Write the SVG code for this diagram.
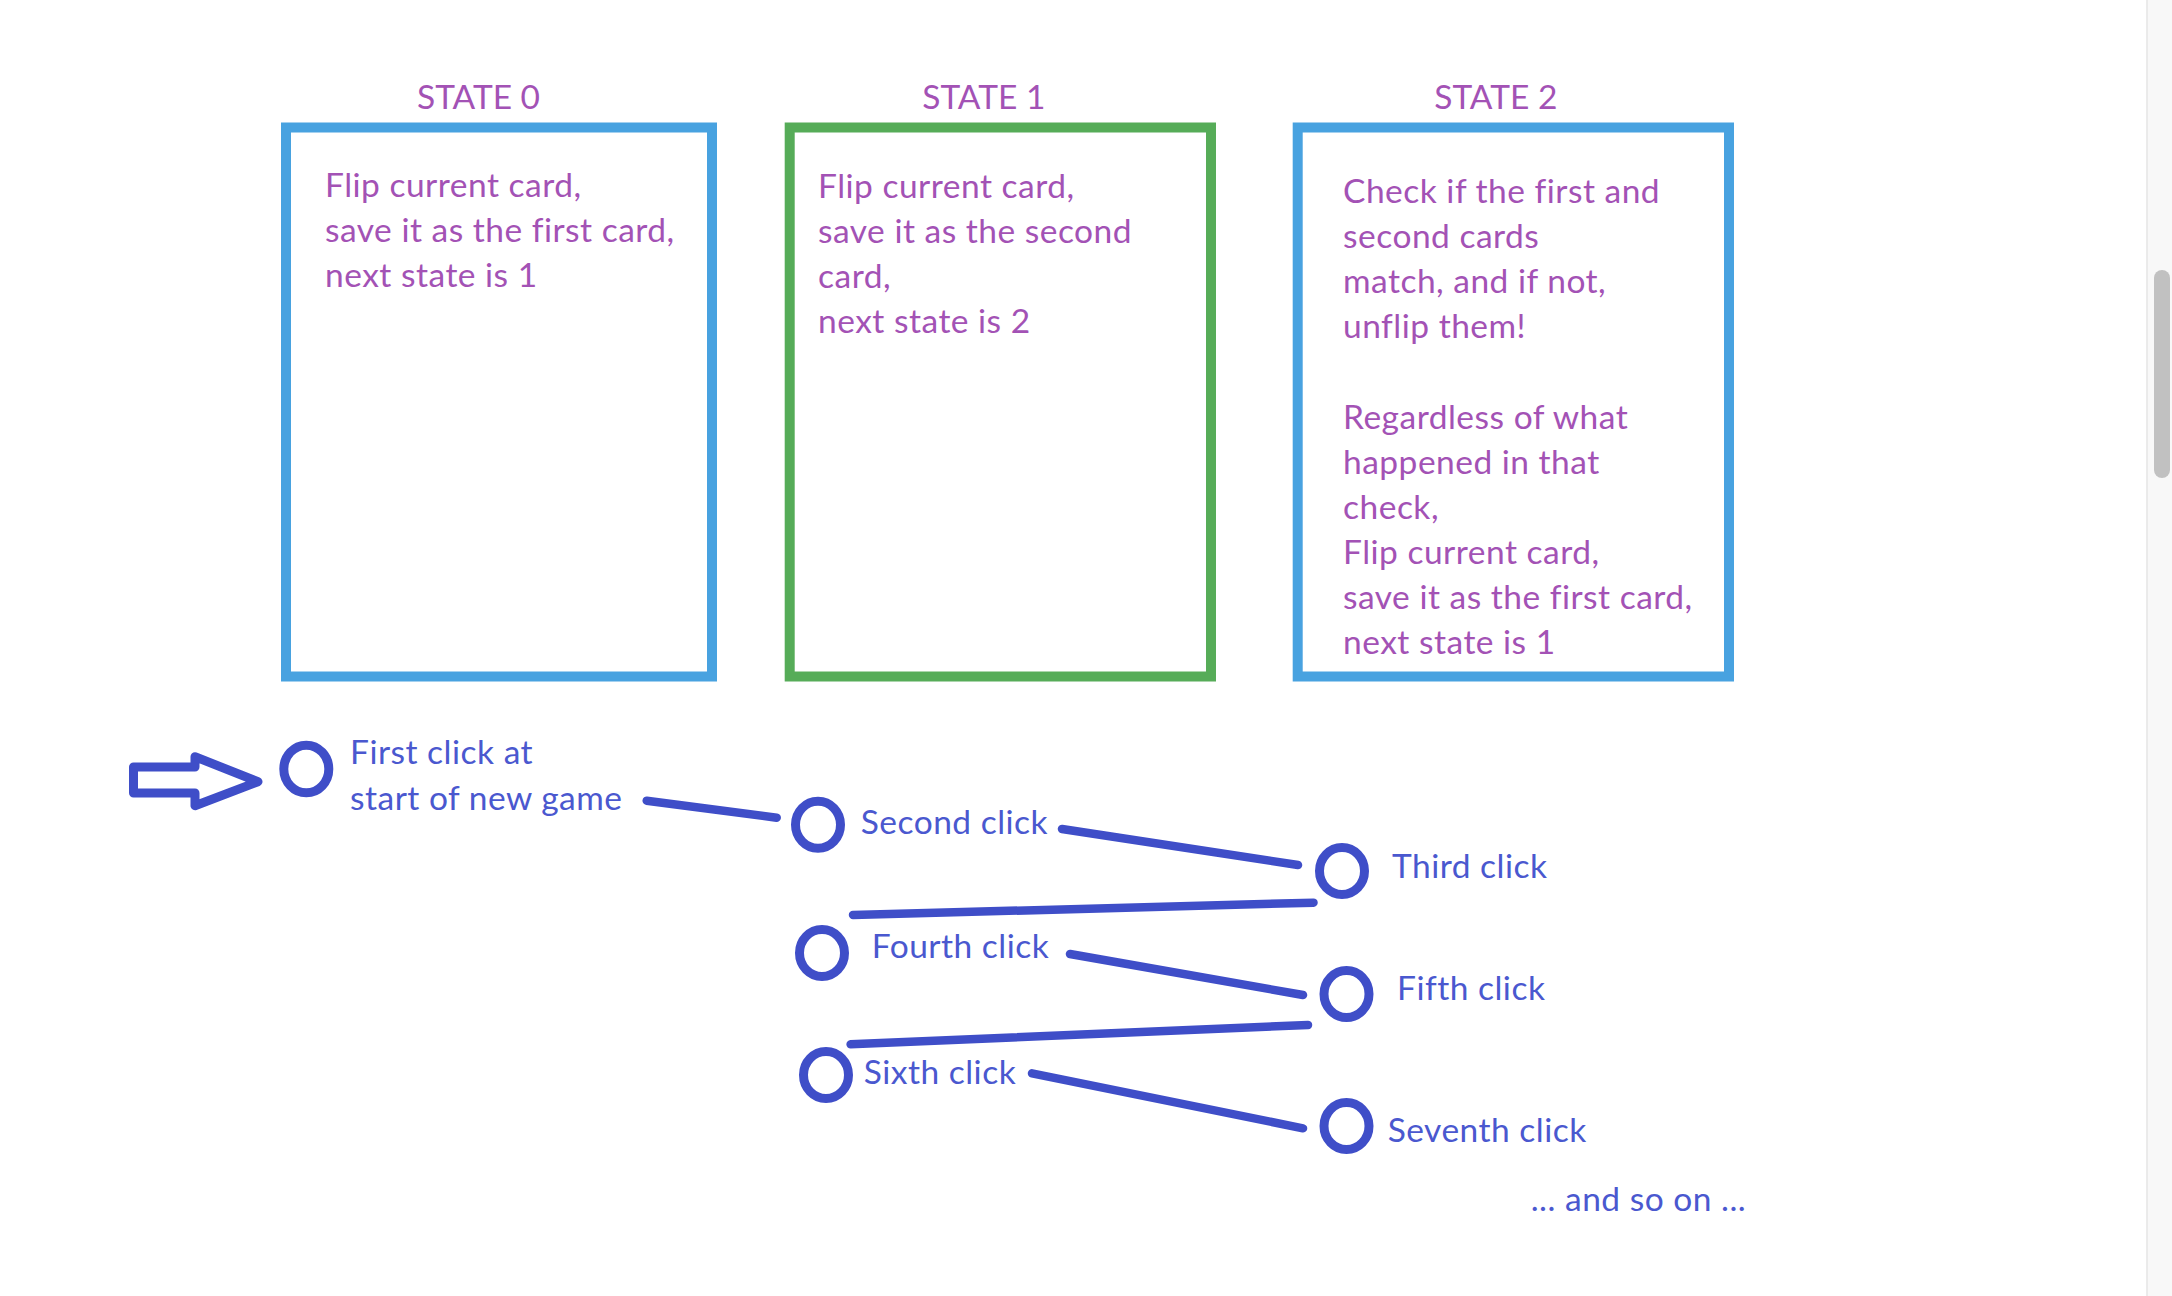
<svg xmlns="http://www.w3.org/2000/svg" width="2172" height="1296" viewBox="0 0 2172 1296">
<style>
.box{fill:none;stroke-width:10}
.blue{stroke:#48a2e0}
.green{stroke:#56ac58}
.ptxt{font-family:Lato,"Open Sans",sans-serif;font-size:33.5px;letter-spacing:0.5px;font-variant-ligatures:none;fill:#a352b5}
.title{letter-spacing:0}
.btxt{font-family:Lato,"Open Sans",sans-serif;font-size:33.5px;letter-spacing:0.5px;font-variant-ligatures:none;fill:#4a58cf}
.node{fill:none;stroke:#3f4ec8;stroke-width:9}
.conn{stroke:#3f4ec8;stroke-width:8.5;stroke-linecap:round;fill:none}
</style>
<rect width="2172" height="1296" fill="#ffffff"/>
<g id="state0">
<text class="ptxt title" x="478.5" y="109" text-anchor="middle">STATE 0</text>
<rect class="box blue" x="286" y="127.5" width="426" height="549"/>
<text class="ptxt" x="325" y="197">Flip current card,</text>
<text class="ptxt" x="325" y="242">save it as the first card,</text>
<text class="ptxt" x="325" y="287">next state is 1</text>
</g>
<g id="state1">
<text class="ptxt title" x="983.8" y="109" text-anchor="middle">STATE 1</text>
<rect class="box green" x="789.7" y="127.5" width="421.3" height="549"/>
<text class="ptxt" x="818" y="197.7">Flip current card,</text>
<text class="ptxt" x="818" y="242.7">save it as the second</text>
<text class="ptxt" x="818" y="287.7">card,</text>
<text class="ptxt" x="818" y="332.7">next state is 2</text>
</g>
<g id="state2">
<text class="ptxt title" x="1495.8" y="109" text-anchor="middle">STATE 2</text>
<rect class="box blue" x="1297.7" y="127.5" width="431.3" height="549"/>
<text class="ptxt" x="1343" y="203">Check if the first and</text>
<text class="ptxt" x="1343" y="248.1">second cards</text>
<text class="ptxt" x="1343" y="293.2">match, and if not,</text>
<text class="ptxt" x="1343" y="338.3">unflip them!</text>
<text class="ptxt" x="1343" y="428.5">Regardless of what</text>
<text class="ptxt" x="1343" y="473.6">happened in that</text>
<text class="ptxt" x="1343" y="518.7">check,</text>
<text class="ptxt" x="1343" y="563.8">Flip current card,</text>
<text class="ptxt" x="1343" y="608.9">save it as the first card,</text>
<text class="ptxt" x="1343" y="654">next state is 1</text>
</g>
<g id="start-arrow">
<path d="M133.5,767 L195,767 L195,756.7 L258,781.7 L195,805.7 L195,793 L133.5,793 Z" fill="none" stroke="#3f4ec8" stroke-width="9" stroke-linejoin="round"/>
</g>
<g id="connectors">
<line class="conn" x1="646.7" y1="800.7" x2="776.7" y2="817.7"/>
<line class="conn" x1="1062" y1="829" x2="1298" y2="865"/>
<line class="conn" x1="1313.5" y1="902.7" x2="853" y2="915"/>
<line class="conn" x1="1070" y1="954" x2="1303" y2="995"/>
<line class="conn" x1="1308" y1="1025" x2="850.6" y2="1044.3"/>
<line class="conn" x1="1032" y1="1073.3" x2="1303" y2="1128.3"/>
</g>
<g id="click1">
<ellipse class="node" cx="306.3" cy="769" rx="22.5" ry="23.8"/>
<text class="btxt" x="350" y="764">First click at</text>
<text class="btxt" x="350" y="810">start of new game</text>
</g>
<g id="click2">
<ellipse class="node" cx="818" cy="824.7" rx="22.5" ry="23.5"/>
<text class="btxt" x="860.7" y="834.3">Second click</text>
</g>
<g id="click3">
<ellipse class="node" cx="1342" cy="871" rx="22.5" ry="23.5"/>
<text class="btxt" x="1392" y="878.3">Third click</text>
</g>
<g id="click4">
<ellipse class="node" cx="822" cy="953" rx="22.5" ry="23.5"/>
<text class="btxt" x="871.7" y="958.3">Fourth click</text>
</g>
<g id="click5">
<ellipse class="node" cx="1346.5" cy="994" rx="22.5" ry="23.5"/>
<text class="btxt" x="1397" y="1000">Fifth click</text>
</g>
<g id="click6">
<ellipse class="node" cx="826" cy="1075" rx="22.5" ry="23.5"/>
<text class="btxt" x="863.7" y="1084">Sixth click</text>
</g>
<g id="click7">
<ellipse class="node" cx="1346.5" cy="1126" rx="22.5" ry="23.5"/>
<text class="btxt" x="1387.7" y="1141.7">Seventh click</text>
</g>
<g id="and-so-on">
<text class="btxt" x="1530.7" y="1211">... and so on ...</text>
</g>
<g id="scrollbar">
<rect x="2146.5" y="0" width="25.5" height="1296" fill="#f8f8f8"/>
<line x1="2147" y1="0" x2="2147" y2="1296" stroke="#e6e6e6" stroke-width="1.5"/>
<rect x="2154" y="270" width="16" height="208" rx="8" fill="#c1c1c1"/>
</g>
</svg>
